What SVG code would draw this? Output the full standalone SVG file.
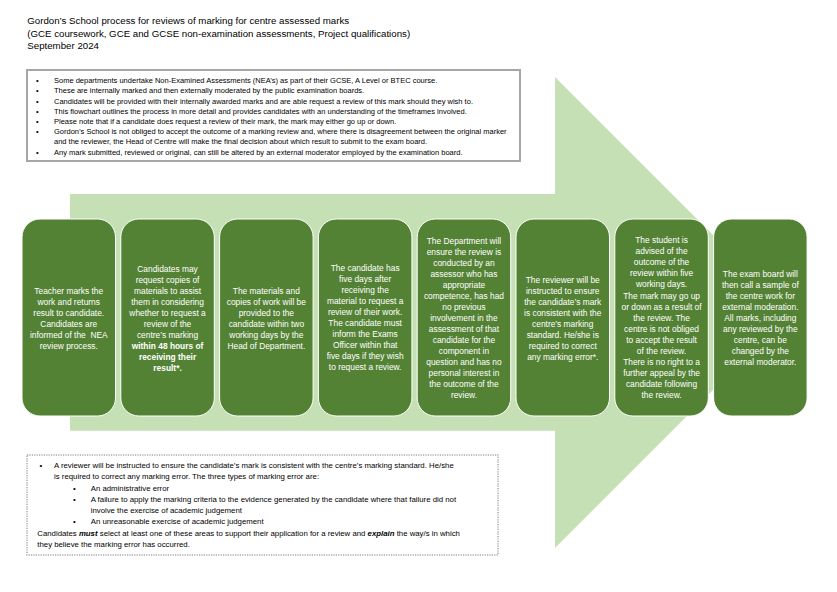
<svg xmlns="http://www.w3.org/2000/svg" width="837" height="592" viewBox="0 0 837 592">
<style>
text{font-family:"Liberation Sans",Arial,sans-serif;}
.title{font-size:9.7px;fill:#000;}
.note{font-size:7.5px;fill:#000;}
.note2{font-size:7.8px;fill:#000;}
.box{fill:#548235;stroke:#ffffff;stroke-width:1;}
.bt{font-size:8.4px;fill:#fff;text-anchor:middle;}
.b{font-weight:bold;}
</style>
<rect width="837" height="592" fill="#fff"/>
<g id="title" class="title">
<text x="27.3" y="24">Gordon’s School process for reviews of marking for centre assessed marks</text>
<text x="27.3" y="36.7">(GCE coursework, GCE and GCSE non-examination assessments, Project qualifications)</text>
<text x="27.3" y="49">September 2024</text>
</g>
<g id="intro">
<rect x="27" y="70" width="493" height="91" fill="#fff" stroke="#a6a6a6" stroke-width="2"/>
<g class="note">
<text x="36" y="83.2">•</text><text x="54" y="83.2">Some departments undertake Non-Examined Assessments (NEA’s) as part of their GCSE, A Level or BTEC course.</text>
<text x="36" y="93.4">•</text><text x="54" y="93.4">These are internally marked and then externally moderated by the public examination boards.</text>
<text x="36" y="103.6">•</text><text x="54" y="103.6">Candidates will be provided with their internally awarded marks and are able request a review of this mark should they wish to.</text>
<text x="36" y="113.8">•</text><text x="54" y="113.8">This flowchart outlines the process in more detail and provides candidates with an understanding of the timeframes involved.</text>
<text x="36" y="124">•</text><text x="54" y="124">Please note that if a candidate does request a review of their mark, the mark may either go up or down.</text>
<text x="36" y="134.2">•</text><text x="54" y="134.2">Gordon’s School is not obliged to accept the outcome of a marking review and, where there is disagreement between the original marker</text>
<text x="54" y="144.4">and the reviewer, the Head of Centre will make the final decision about which result to submit to the exam board.</text>
<text x="36" y="154.6">•</text><text x="54" y="154.6">Any mark submitted, reviewed or original, can still be altered by an external moderator employed by the examination board.</text>
</g>
</g>
<g id="arrow">
<polygon points="70,194 555,194 555,77 790.5,312.5 555,548 555,430.7 70,430.7" fill="#c5e0b4"/>
</g>
<g id="connectors"></g>
<g id="step1">
<rect class="box" x="22" y="219" width="93.5" height="197" rx="18"/>
<text class="bt" x="68.75" y="294">Teacher marks the</text>
<text class="bt" x="68.75" y="305">work and returns</text>
<text class="bt" x="68.75" y="316">result to candidate.</text>
<text class="bt" x="68.75" y="327">Candidates are</text>
<text class="bt" x="68.75" y="338">informed of the&#160; NEA</text>
<text class="bt" x="68.75" y="349">review process.</text>
</g>
<g id="step2">
<rect class="box" x="120.8" y="219" width="93.5" height="197" rx="18"/>
<text class="bt" x="167.55" y="272">Candidates may</text>
<text class="bt" x="167.55" y="283">request copies of</text>
<text class="bt" x="167.55" y="294">materials to assist</text>
<text class="bt" x="167.55" y="305">them in considering</text>
<text class="bt" x="167.55" y="316">whether to request a</text>
<text class="bt" x="167.55" y="327">review of the</text>
<text class="bt" x="167.55" y="338">centre’s marking</text>
<text class="bt b" x="167.55" y="349">within 48 hours of</text>
<text class="bt b" x="167.55" y="360">receiving their</text>
<text class="bt b" x="167.55" y="371">result*.</text>
</g>
<g id="step3">
<rect class="box" x="219.6" y="219" width="93.5" height="197" rx="18"/>
<text class="bt" x="266.35" y="294">The materials and</text>
<text class="bt" x="266.35" y="305">copies of work will be</text>
<text class="bt" x="266.35" y="316">provided to the</text>
<text class="bt" x="266.35" y="327">candidate within two</text>
<text class="bt" x="266.35" y="338">working days by the</text>
<text class="bt" x="266.35" y="349">Head of Department.</text>
</g>
<g id="step4">
<rect class="box" x="318.4" y="219" width="93.5" height="197" rx="18"/>
<text class="bt" x="365.15" y="271">The candidate has</text>
<text class="bt" x="365.15" y="282">five days after</text>
<text class="bt" x="365.15" y="293">receiving the</text>
<text class="bt" x="365.15" y="304">material to request a</text>
<text class="bt" x="365.15" y="315">review of their work.</text>
<text class="bt" x="365.15" y="326">The candidate must</text>
<text class="bt" x="365.15" y="337">inform the Exams</text>
<text class="bt" x="365.15" y="348">Officer within that</text>
<text class="bt" x="365.15" y="359">five days if they wish</text>
<text class="bt" x="365.15" y="370">to request a review.</text>
</g>
<g id="step5">
<rect class="box" x="417.2" y="219" width="93.5" height="197" rx="18"/>
<text class="bt" x="463.95" y="244">The Department will</text>
<text class="bt" x="463.95" y="255">ensure the review is</text>
<text class="bt" x="463.95" y="266">conducted by an</text>
<text class="bt" x="463.95" y="277">assessor who has</text>
<text class="bt" x="463.95" y="288">appropriate</text>
<text class="bt" x="463.95" y="299">competence, has had</text>
<text class="bt" x="463.95" y="310">no previous</text>
<text class="bt" x="463.95" y="321">involvement in the</text>
<text class="bt" x="463.95" y="332">assessment of that</text>
<text class="bt" x="463.95" y="343">candidate for the</text>
<text class="bt" x="463.95" y="354">component in</text>
<text class="bt" x="463.95" y="365">question and has no</text>
<text class="bt" x="463.95" y="376">personal interest in</text>
<text class="bt" x="463.95" y="387">the outcome of the</text>
<text class="bt" x="463.95" y="398">review.</text>
</g>
<g id="step6">
<rect class="box" x="516" y="219" width="93.5" height="197" rx="18"/>
<text class="bt" x="562.75" y="283">The reviewer will be</text>
<text class="bt" x="562.75" y="294">instructed to ensure</text>
<text class="bt" x="562.75" y="305">the candidate’s mark</text>
<text class="bt" x="562.75" y="316">is consistent with the</text>
<text class="bt" x="562.75" y="327">centre’s marking</text>
<text class="bt" x="562.75" y="338">standard. He/she is</text>
<text class="bt" x="562.75" y="349">required to correct</text>
<text class="bt" x="562.75" y="360">any marking error*.</text>
</g>
<g id="step7">
<rect class="box" x="614.8" y="219" width="93.5" height="197" rx="18"/>
<text class="bt" x="661.55" y="243">The student is</text>
<text class="bt" x="661.55" y="254">advised of the</text>
<text class="bt" x="661.55" y="265">outcome of the</text>
<text class="bt" x="661.55" y="276">review within five</text>
<text class="bt" x="661.55" y="287">working days.</text>
<text class="bt" x="661.55" y="298.5">The mark may go up</text>
<text class="bt" x="661.55" y="309.5">or down as a result of</text>
<text class="bt" x="661.55" y="320.5">the review. The</text>
<text class="bt" x="661.55" y="331.5">centre is not obliged</text>
<text class="bt" x="661.55" y="342.5">to accept the result</text>
<text class="bt" x="661.55" y="353.5">of the review.</text>
<text class="bt" x="661.55" y="365">There is no right to a</text>
<text class="bt" x="661.55" y="376">further appeal by the</text>
<text class="bt" x="661.55" y="387">candidate following</text>
<text class="bt" x="661.55" y="398">the review.</text>
</g>
<g id="step8">
<rect class="box" x="713.6" y="219" width="93.5" height="197" rx="18"/>
<text class="bt" x="760.35" y="277">The exam board will</text>
<text class="bt" x="760.35" y="288">then call a sample of</text>
<text class="bt" x="760.35" y="299">the centre work for</text>
<text class="bt" x="760.35" y="310">external moderation.</text>
<text class="bt" x="760.35" y="321">All marks, including</text>
<text class="bt" x="760.35" y="332">any reviewed by the</text>
<text class="bt" x="760.35" y="343">centre, can be</text>
<text class="bt" x="760.35" y="354">changed by the</text>
<text class="bt" x="760.35" y="365">external moderator.</text>
</g>
<g id="footnote">
<rect x="27" y="455" width="471" height="100" fill="#fff" stroke="#a6a6a6" stroke-width="1.5" stroke-dasharray="1.2,1.2"/>
<g class="note2">
<text x="39.5" y="468.2">•</text><text x="54" y="468.2">A reviewer will be instructed to ensure the candidate’s mark is consistent with the centre’s marking standard. He/she</text>
<text x="54" y="479.4">is required to correct any marking error. The three types of marking error are:</text>
<text x="73" y="490.6">•</text><text x="90.7" y="490.6">An administrative error</text>
<text x="73" y="501.8">•</text><text x="90.7" y="501.8">A failure to apply the marking criteria to the evidence generated by the candidate where that failure did not</text>
<text x="90.7" y="513.4">involve the exercise of academic judgement</text>
<text x="73" y="524.4">•</text><text x="90.7" y="524.4">An unreasonable exercise of academic judgement</text>
<text x="37.3" y="536">Candidates <tspan font-weight="bold" font-style="italic">must</tspan> select at least one of these areas to support their application for a review and <tspan font-weight="bold" font-style="italic">explain</tspan> the way/s in which</text>
<text x="37.3" y="547">they believe the marking error has occurred.</text>
</g>
</g>
</svg>
